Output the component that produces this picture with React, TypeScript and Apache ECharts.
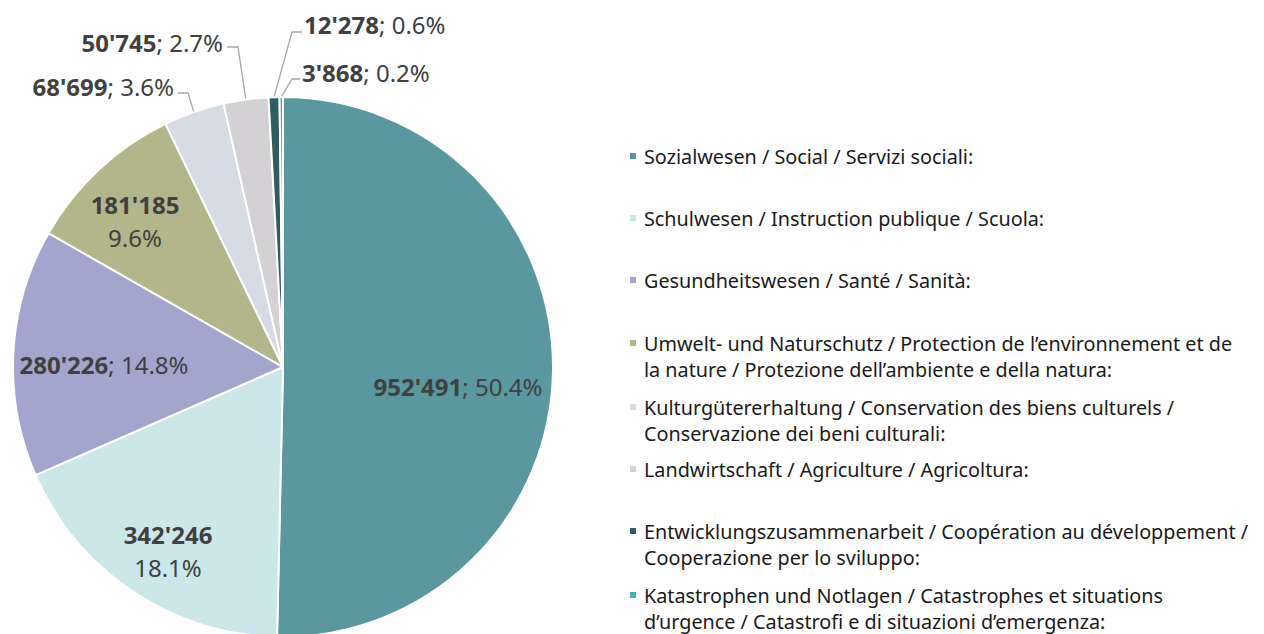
import React, { useEffect, useRef } from "react";
import * as echarts from "echarts";

const categories = [
  "Sozialwesen / Social / Servizi sociali:",
  "Schulwesen / Instruction publique / Scuola:",
  "Gesundheitswesen / Santé / Sanità:",
  "Umwelt- und Naturschutz / Protection de l’environnement et de\nla nature / Protezione dell’ambiente e della natura:",
  "Kulturgütererhaltung / Conservation des biens culturels /\nConservazione dei beni culturali:",
  "Landwirtschaft / Agriculture / Agricoltura:",
  "Entwicklungszusammenarbeit / Coopération au développement /\nCooperazione per lo sviluppo:",
  "Katastrophen und Notlagen / Catastrophes et situations\nd’urgence / Catastrofi e di situazioni d’emergenza:",
];
const values = [952491, 342246, 280226, 181185, 68699, 50745, 12278, 3868];
const colors = ["#5A979F", "#CBE7EA", "#A3A6CC", "#B2B68A", "#D6DCE6", "#D3D1D3", "#2E5C5F", "#4AADB8"];
// label style per slice: inline = "value; pct", stacked = two lines, outside = with leader line
const labelModes = ["inline", "stacked", "inline", "stacked", "outside", "outside", "outside", "outside"];

// layout (pixels)
const CX = 283;
const CY = 367;
const R = 270;
const labelPlacement: any[] = [
  { x: 458, y: 386, align: "center" },
  { x: 168, y: 551, align: "center" },
  { x: 104, y: 364, align: "center" },
  { x: 135, y: 221, align: "center" },
  { x: 174, y: 86, align: "right", elbow: [188, 93], end: [178, 93] },
  { x: 223, y: 42, align: "right", elbow: [238, 47], end: [227, 47] },
  { x: 304, y: 24, align: "left", elbow: [292, 32], end: [302, 32] },
  { x: 302, y: 72, align: "left", elbow: [292, 79], end: [300, 79] },
];
const legendCenters = [157, 219, 281, 344, 408, 470, 532, 596];

const FONT = "Noto Sans";
const LABEL_COLOR = "#404040";
const LEGEND_LH = 26;

const total = values.reduce((a, b) => a + b, 0);
const fmt = (v: number) => String(v).replace(/\B(?=(\d{3})+(?!\d))/g, "'");
const pct = (v: number) => ((v / total) * 100).toFixed(1) + "%";

export default function App() {
  const ref = useRef<HTMLDivElement>(null);
  useEffect(() => {
    if (!ref.current) return;
    const chart = echarts.init(ref.current, null, { renderer: "svg" });

    const cumBefore: number[] = [];
    let acc = 0;
    values.forEach((v) => {
      cumBefore.push(acc);
      acc += v;
    });
    const edgePoint = (i: number) => {
      const theta = (2 * Math.PI * (cumBefore[i] + values[i] / 2)) / total;
      return [CX + R * Math.sin(theta), CY - R * Math.cos(theta)];
    };

    const data = categories.map((name, i) => {
      const mode = labelModes[i];
      const text =
        mode === "stacked"
          ? `{b|${fmt(values[i])}}\n{n|${pct(values[i])}}`
          : `{b|${fmt(values[i])}}{n|; ${pct(values[i])}}`;
      return {
        name,
        value: values[i],
        itemStyle: { color: colors[i] },
        label: {
          show: true,
          position: mode === "outside" ? "outside" : "inside",
          formatter: text,
        },
        labelLine: { show: mode === "outside" },
      };
    });

    const legends = categories.map((name, i) => {
      const twoLine = name.includes("\n");
      return {
        data: [name],
        orient: "vertical",
        left: 628,
        top: legendCenters[i] - (twoLine ? LEGEND_LH * 1.5 : LEGEND_LH / 2) - 1,
        padding: 0,
        itemWidth: 8,
        itemHeight: 8,
        icon: "rect",
        selectedMode: false,
        // a leading blank line keeps the marker level with the first text line
        formatter: (n: string) => (twoLine ? " \n" + n : n),
        textStyle: {
          fontFamily: FONT,
          fontSize: 19.8,
          lineHeight: LEGEND_LH,
          color: "#1a1a1a",
          padding: [0, 0, 0, 2],
        },
      };
    });

    chart.setOption({
      animation: false,
      backgroundColor: "#ffffff",
      legend: legends,
      series: [
        {
          type: "pie",
          center: [CX, CY],
          radius: R,
          startAngle: 90,
          clockwise: true,
          avoidLabelOverlap: false,
          itemStyle: { borderColor: "#ffffff", borderWidth: 2 },
          label: {
            fontFamily: FONT,
            color: LABEL_COLOR,
            rich: {
              b: { fontFamily: FONT, fontSize: 24, fontWeight: "bold", color: LABEL_COLOR, lineHeight: 33 },
              n: { fontFamily: FONT, fontSize: 24, color: LABEL_COLOR, lineHeight: 33 },
            },
          },
          labelLine: {
            lineStyle: { color: "#A6A6A6", width: 1.3 },
          },
          labelLayout: (params: any) => {
            const p = labelPlacement[params.dataIndex];
            const out: any = {
              x: p.x,
              y: p.y,
              align: p.align,
              verticalAlign: "middle",
            };
            if (p.elbow) {
              out.labelLinePoints = [edgePoint(params.dataIndex), p.elbow, p.end];
            }
            return out;
          },
          data,
        },
      ],
    });
    return () => chart.dispose();
  }, []);
  return (
    <div
      ref={ref}
      style={{ position: "fixed", left: 0, top: 0, width: 1264, height: 634 }}
    />
  );
}
